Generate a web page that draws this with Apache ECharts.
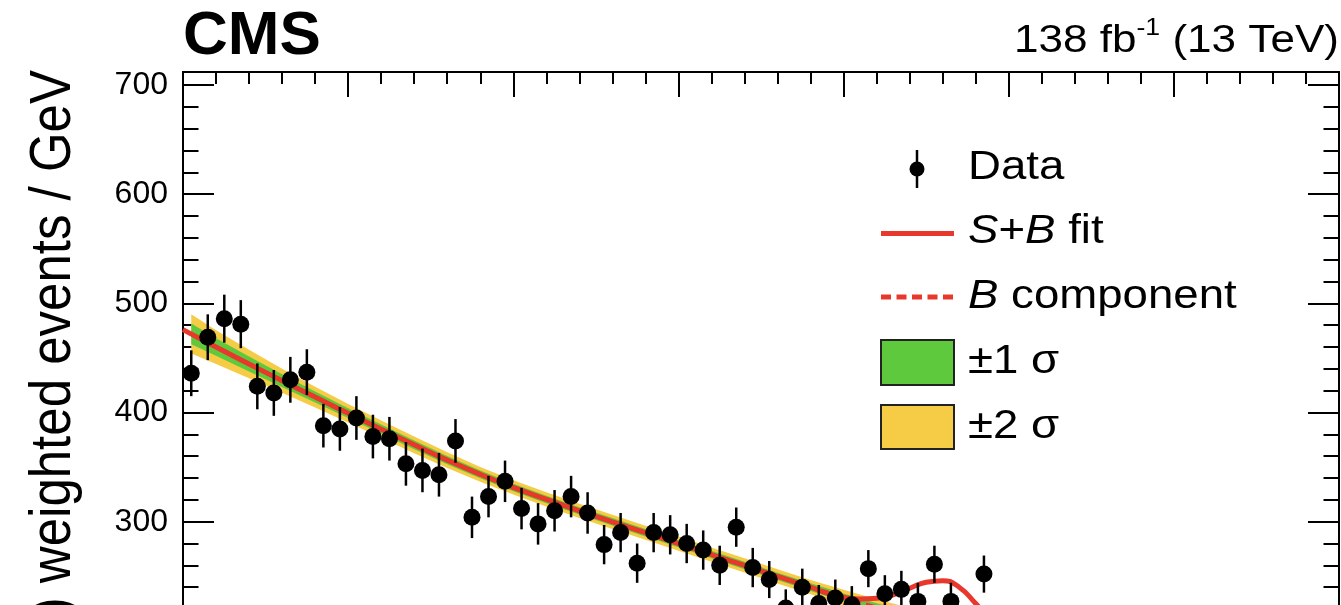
<!DOCTYPE html>
<html>
<head>
<meta charset="utf-8">
<script src="https://cdn.jsdelivr.net/npm/echarts@6/dist/echarts.min.js"></script>
<style>
html,body{margin:0;padding:0;background:#fff;overflow:hidden}
#c{width:1341px;height:800px}
</style>
</head>
<body>
<div id="c"></div>
<script>
// ---- data ----
const binCenters = [70.25,70.75,71.25,71.75,72.25,72.75,73.25,73.75,74.25,74.75,75.25,75.75,76.25,76.75,77.25,77.75,78.25,78.75,79.25,79.75,80.25,80.75,81.25,81.75,82.25,82.75,83.25,83.75,84.25,84.75,85.25,85.75,86.25,86.75,87.25,87.75,88.25,88.75,89.25,89.75,90.25,90.75,91.25,91.75,92.25,92.75,93.25,93.75,94.25];
const dataValues = [436,469,486,481,424,418,430,437,388,385,395,378,376,353,347,343,374,304,323,337,312,298,310,323,308,279,290,262,290,288,280,274,260,295,258,247,221,240,225,230,224,257,234,238,227,261,227,205,252];
const dataErrors = [21,21,22,22,21,21,21,21,20,20,20,20,20,20,20,20,20,19,19,19,19,19,19,19,19,18,18,18,18,18,18,18,18,18,18,17,17,17,17,17,17,17,17,17,17,17,17,17,17];

const sbX = [70,71,72,73,74,75,76,77,78,79,80,81,82,83,84,85,86,87,88,89,89.5,90,90.5,91,91.5,92,92.5,93,93.5,94,94.5,95,96,97];
const sbY = [476,460,444.5,429.2,414.2,399.4,384.8,370.4,356.4,343.4,331.4,320.4,309.9,299.9,289.9,279.9,269.9,259.9,249.9,240.1,234.5,230.8,229.2,229.8,233,239,244.5,246,240,225,208,195,186,179];

const bgX = [70.25,71,72,73,74,75,76,77,78,79,80,81,82,83,84,85,86,87,88,89,90,91,92,93,94,95,96,97];
const bgY = [472,460,444.5,429.2,414.2,399.4,384.8,370.4,356.4,343.4,331.4,320.4,309.9,299.9,289.9,279.9,269.9,259.9,249.9,240.1,230.5,221.5,213.5,206,199,192,185,179];
const band2Half = [18,15.5,13,11,9.5,8.5,8,7.6,7.3,6.8,6.5,6.5,6.5,6.5,6.5,6.5,6.5,6.5,6.5,6.6,7.2,7.4,7.6,7.8,8,8.2,8.4,8.6];
const band1Half = [9.5,8,6.8,5.8,5,4.5,4.2,4,3.8,3.5,3.4,3.4,3.4,3.4,3.4,3.4,3.4,3.4,3.4,3.5,3.7,3.8,3.9,4,4.1,4.2,4.3,4.4];

const yTickValues = [300,400,500,600,700];

// ---- styling ----
const FONT = "'Liberation Sans', Arial, Helvetica, sans-serif";
const RED = '#e8382b';
const GREEN = '#5ec93c';
const YELLOW = '#f6cb45';
const BLACK = '#000';

const chart = echarts.init(document.getElementById('c'), null, {renderer: 'canvas'});

function bandSeries(name, half, color, z) {
  return {
    type: 'custom', name: name, z: z, silent: true, clip: true,
    xAxisIndex: 0, yAxisIndex: 0,
    data: [[bgX[0], bgY[0]]],
    encode: {x: 0, y: 1},
    renderItem: function (params, api) {
      const upper = bgX.map((x, i) => api.coord([x, bgY[i] + half[i]]));
      const lower = bgX.map((x, i) => api.coord([x, bgY[i] - half[i]])).reverse();
      return {type: 'polygon', shape: {points: upper.concat(lower)}, style: {fill: color}};
    }
  };
}

const lineStyleAx = {color: BLACK, width: 2};
function xAx(interval, len) {
  return {
    type: 'value', min: 70, max: 105, interval: interval, position: 'top',
    axisLine: {show: true, onZero: false, lineStyle: lineStyleAx},
    axisTick: {show: true, inside: true, length: len, lineStyle: lineStyleAx},
    axisLabel: {show: false}, splitLine: {show: false}
  };
}
function yAx(pos, interval, len, labels) {
  return {
    type: 'value', min: 100, max: 712, interval: interval, position: pos,
    axisLine: {show: true, onZero: false, lineStyle: lineStyleAx},
    axisTick: {show: true, inside: true, length: len, lineStyle: lineStyleAx},
    axisLabel: labels ? {
      show: true, margin: 15, fontSize: 32, fontFamily: FONT, color: BLACK,
      formatter: v => (yTickValues.indexOf(v) >= 0 ? String(v) : '')
    } : {show: false},
    splitLine: {show: false}
  };
}

const legendX1 = 881, legendX2 = 954, legendTextX = 968;
const textScale = 1.14;
function legendText(txt, y, rich) {
  return {
    type: 'text', x: legendTextX, y: y, scaleX: textScale, z: 20,
    style: {
      text: txt, fill: BLACK, fontSize: 40, fontFamily: FONT,
      align: 'left', verticalAlign: 'middle',
      rich: rich || {}
    }
  };
}
const italicRich = {i: {fontStyle: 'italic', fontSize: 40, fontFamily: FONT, fill: BLACK}};

const option = {
  animation: false,
  backgroundColor: '#fff',
  grid: {left: 183, top: 72, right: 2, bottom: 60, show: false},
  xAxis: [xAx(5, 25), xAx(1, 12)],
  yAxis: [yAx('left', 100, 31, true), yAx('left', 20, 15.5, false), yAx('right', 100, 31, false), yAx('right', 20, 15.5, false)],
  series: [
    bandSeries('±2 σ', band2Half, YELLOW, 1),
    bandSeries('±1 σ', band1Half, GREEN, 2),
    {
      type: 'line', name: 'B component', z: 3, silent: true,
      data: bgX.map((x, i) => [x, bgY[i]]),
      smooth: 0.5, showSymbol: false,
      lineStyle: {color: RED, width: 4, type: [10, 5.5]}
    },
    {
      type: 'line', name: 'S+B fit', z: 4, silent: true,
      data: sbX.map((x, i) => [x, sbY[i]]),
      smooth: 0.5, showSymbol: false,
      lineStyle: {color: RED, width: 5}
    },
    {
      type: 'custom', name: 'Data errors', z: 5, silent: true,
      data: binCenters.map((x, i) => [x, dataValues[i], dataErrors[i]]),
      encode: {x: 0, y: 1},
      renderItem: function (params, api) {
        const x = api.value(0), v = api.value(1), e = api.value(2);
        const p1 = api.coord([x, v - e]), p2 = api.coord([x, v + e]);
        return {type: 'line', shape: {x1: p1[0], y1: p1[1], x2: p2[0], y2: p2[1]}, style: {stroke: BLACK, lineWidth: 2.5}};
      }
    },
    {
      type: 'scatter', name: 'Data', z: 6, silent: true,
      data: binCenters.map((x, i) => [x, dataValues[i]]),
      symbol: 'circle', symbolSize: 17,
      itemStyle: {color: BLACK, opacity: 1}
    }
  ],
  graphic: [
    // CMS label
    {type: 'text', x: 183, y: 37, z: 20, style: {text: 'CMS', fill: BLACK, fontSize: 62, fontWeight: 'bold', fontFamily: FONT, align: 'left', verticalAlign: 'middle'}},
    // luminosity label
    {type: 'text', x: 1339, y: 42, scaleX: 1.16, z: 20, style: {
      text: '{n|138 fb}{s|-1}{n| (13 TeV)}', fill: BLACK, fontSize: 38, fontFamily: FONT,
      align: 'right', verticalAlign: 'middle',
      rich: {
        n: {fontSize: 38, fontFamily: FONT, fill: BLACK, lineHeight: 50, verticalAlign: 'middle'},
        s: {fontSize: 23, fontFamily: FONT, fill: BLACK, lineHeight: 24, verticalAlign: 'top'}
      }
    }},
    // y axis title
    {type: 'text', x: 54, y: 70, rotation: Math.PI / 2, scaleY: 1.13, z: 20, style: {
      text: '{i|S}/({i|S}+{i|B}) weighted events / GeV', fill: BLACK, fontSize: 51, fontFamily: FONT,
      align: 'right', verticalAlign: 'middle',
      rich: {i: {fontStyle: 'italic', fontSize: 51, fontFamily: FONT, fill: BLACK}}
    }},
    // legend: Data
    {type: 'line', z: 20, shape: {x1: 917, y1: 150, x2: 917, y2: 188}, style: {stroke: BLACK, lineWidth: 2.5}},
    {type: 'circle', z: 21, shape: {cx: 917, cy: 169, r: 7.5}, style: {fill: BLACK}},
    legendText('Data', 168),
    // legend: S+B fit
    {type: 'line', z: 20, shape: {x1: legendX1, y1: 233.5, x2: legendX2, y2: 233.5}, style: {stroke: RED, lineWidth: 5}},
    legendText('{i|S}+{i|B} fit', 232, italicRich),
    // legend: B component
    {type: 'line', z: 20, shape: {x1: legendX1, y1: 297, x2: legendX2, y2: 297}, style: {stroke: RED, lineWidth: 5, lineDash: [10, 5.5]}},
    legendText('{i|B} component', 297, italicRich),
    // legend: ±1 sigma
    {type: 'rect', z: 20, shape: {x: legendX1, y: 340, width: legendX2 - legendX1, height: 45}, style: {fill: GREEN, stroke: '#222', lineWidth: 2}},
    legendText('±1 σ', 362),
    // legend: ±2 sigma
    {type: 'rect', z: 20, shape: {x: legendX1, y: 405, width: legendX2 - legendX1, height: 44}, style: {fill: YELLOW, stroke: '#222', lineWidth: 2}},
    legendText('±2 σ', 427)
  ]
};
chart.setOption(option);
</script>
</body>
</html>
